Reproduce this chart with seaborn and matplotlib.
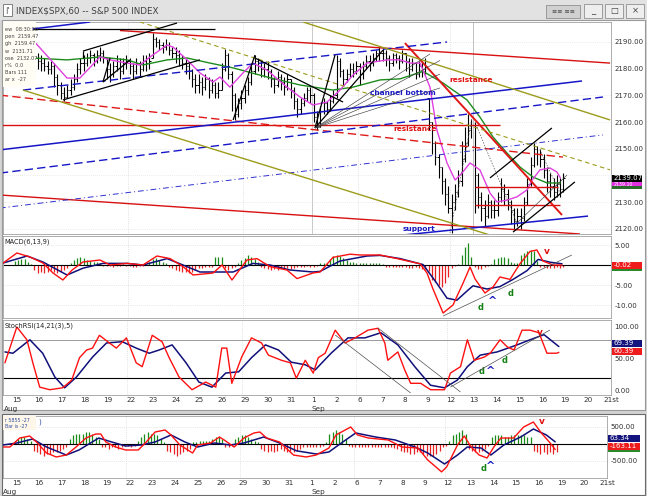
import numpy as np
import seaborn as sns
import matplotlib.pyplot as plt
from matplotlib.patches import Rectangle

sns.set_style("white")
plt.rcParams['font.family'] = ['DejaVu Sans']

W, H = 647, 496

# ---------------- data ----------------
day_labels = ['15', '16', '17', '18', '19', '22', '23', '24', '25', '26', '29', '30', '31',
              '1', '2', '6', '7', '8', '9', '12', '13', '14', '15', '16', '19', '20', '21st']

# hourly bars, 7 per day, Aug 15 .. Sep 16
closes = [
    2188, 2190, 2191, 2189, 2188, 2186, 2184,
    2183, 2182, 2181, 2180, 2181, 2177, 2174,
    2171, 2169.5, 2172, 2173, 2176, 2180, 2182,
    2182, 2184, 2185, 2183, 2185, 2186, 2184,
    2180, 2178, 2181, 2183, 2179, 2182, 2183,
    2181, 2179, 2182, 2180, 2183, 2182, 2183,
    2191, 2190, 2189, 2188, 2189, 2187, 2186,
    2185, 2184, 2182, 2181, 2179, 2176, 2174,
    2175, 2173, 2176, 2172, 2174, 2171, 2172,
    2180, 2185, 2178, 2170, 2163, 2167, 2169,
    2172, 2175, 2179, 2183, 2181, 2180, 2180,
    2179, 2176, 2174, 2177, 2175, 2173, 2176,
    2172, 2168, 2165, 2167, 2169, 2172, 2170,
    2162, 2158, 2164, 2167, 2165, 2168, 2170,
    2183, 2179, 2176, 2178, 2180, 2179, 2181,
    2178, 2181, 2183, 2182, 2184, 2186, 2186,
    2186, 2184, 2182, 2185, 2184, 2183, 2186,
    2183, 2180, 2182, 2178, 2181, 2180, 2181,
    2160, 2152, 2147, 2143, 2138, 2133, 2128,
    2130, 2134, 2138, 2146, 2152, 2157, 2159,
    2140, 2132, 2128, 2125, 2130, 2127, 2127,
    2132, 2135, 2133, 2130, 2127, 2123, 2125,
    2124, 2130, 2137, 2144, 2150, 2148, 2146,
    2142, 2138, 2136, 2134, 2137, 2135, 2139.07,
]
highs = [
    2190, 2193.8, 2193, 2191, 2190, 2189, 2187,
    2186, 2185, 2184, 2183, 2183, 2182, 2178,
    2175, 2173, 2174, 2176, 2178, 2182, 2184,
    2185, 2186, 2187, 2186, 2187, 2188, 2187,
    2184, 2182, 2183, 2185, 2184, 2184, 2185,
    2184, 2182, 2184, 2183, 2185, 2185, 2186,
    2193.5, 2192, 2191, 2190, 2191, 2190, 2188,
    2188, 2187, 2185, 2184, 2182, 2180, 2178,
    2178, 2177, 2178, 2177, 2176, 2175, 2175,
    2182, 2187.5, 2186, 2179, 2171, 2169, 2172,
    2174, 2177, 2181, 2185, 2184, 2183, 2182,
    2183, 2180, 2177, 2179, 2178, 2177, 2178,
    2176, 2173, 2169, 2169, 2171, 2173, 2173,
    2171, 2164, 2166, 2169, 2168, 2170, 2172,
    2185, 2184, 2180, 2180, 2182, 2182, 2183,
    2182, 2183, 2185, 2185, 2186, 2187, 2188,
    2187.7, 2187, 2185, 2186, 2186, 2185, 2187,
    2186, 2184, 2184, 2182, 2183, 2183, 2184,
    2169, 2160, 2153, 2148, 2143, 2139, 2136,
    2133, 2137, 2142, 2153, 2158, 2163, 2161,
    2160, 2141, 2134, 2131, 2133, 2131, 2131,
    2134, 2139, 2137, 2135, 2131, 2128, 2128,
    2128, 2132, 2139, 2147, 2152, 2151, 2150,
    2148, 2143, 2141, 2139, 2140, 2139, 2141,
]
lows = [
    2185, 2187, 2189, 2187, 2186, 2184, 2181,
    2180, 2179, 2179, 2178, 2178, 2173, 2170,
    2168.5, 2168, 2169, 2170, 2172, 2175, 2178,
    2179, 2181, 2182, 2181, 2182, 2183, 2182,
    2176, 2175, 2177, 2179, 2176, 2178, 2180,
    2178, 2176, 2178, 2177, 2179, 2179, 2180,
    2184, 2188, 2187, 2186, 2187, 2185, 2184,
    2182, 2181, 2180, 2178, 2176, 2173, 2171,
    2171, 2170, 2172, 2169, 2171, 2169, 2169,
    2172, 2179, 2176, 2164, 2160.8, 2162, 2165,
    2167, 2170, 2174, 2178, 2179, 2177, 2177,
    2176, 2173, 2171, 2173, 2172, 2170, 2172,
    2169, 2165, 2162, 2163, 2166, 2168, 2167,
    2160, 2157, 2158, 2163, 2163, 2164, 2167,
    2169, 2177, 2174, 2175, 2177, 2177, 2178,
    2174, 2176, 2180, 2179, 2181, 2183, 2183,
    2183, 2181, 2179, 2181, 2182, 2180, 2182,
    2179, 2177, 2179, 2176, 2177, 2177, 2178,
    2157, 2148, 2144, 2139, 2133, 2129, 2126,
    2118.5, 2127, 2132, 2136, 2145, 2151, 2154,
    2126, 2128, 2123, 2121, 2124, 2124, 2124,
    2125, 2130, 2129, 2127, 2122, 2119.5, 2121,
    2120, 2123, 2129, 2136, 2143, 2144, 2143,
    2139, 2134, 2132, 2131, 2132, 2132, 2134,
]
first_open = 2186.0

# moving averages drawn on the price bars (day position, price)
ma_fast_x = [0.87, 2.35, 2.91, 3.78, 4.22, 4.96, 5.52, 5.96, 6.70, 6.96, 7.57, 8.13, 8.70, 9.00,
             9.43, 10.00, 10.43, 11.04, 11.91, 12.48, 13.04, 13.65, 14.22, 14.78, 15.39, 16.26,
             16.83, 17.26, 17.70, 18.13, 18.43, 18.87, 19.22, 19.52, 19.87, 20.30, 20.74, 21.04,
             21.48, 21.91, 22.35, 22.57, 22.91, 23.35, 23.65, 23.80]
ma_fast_y = [2190.7, 2176.5, 2176.5, 2184.4, 2183.3, 2182.1, 2181.4, 2184.4, 2188.9, 2188.1,
             2183.3, 2178.4, 2175.0, 2176.9, 2173.1, 2178.4, 2182.1, 2179.5, 2173.1, 2169.4,
             2166.4, 2167.5, 2172.0, 2177.6, 2182.1, 2183.3, 2183.3, 2182.1, 2182.1, 2173.1,
             2157.0, 2144.7, 2138.3, 2140.9, 2144.7, 2142.1, 2133.4, 2130.1, 2130.8, 2132.0,
             2134.6, 2138.3, 2142.1, 2142.8, 2141.3, 2139.1]
ma_slow_x = [0.87, 2.35, 3.78, 4.96, 5.65, 6.70, 7.57, 8.57, 9.57, 11.04, 12.48, 13.91, 14.78,
             15.96, 16.83, 17.83, 18.70, 19.74, 20.30, 20.87, 21.48, 22.04, 22.61, 23.22, 23.80]
ma_slow_y = [2184.0, 2183.3, 2184.4, 2183.3, 2181.4, 2183.3, 2184.0, 2182.1, 2180.3, 2176.9,
             2173.9, 2172.0, 2173.1, 2175.8, 2176.2, 2179.0, 2174.6, 2168.3, 2161.9, 2154.4,
             2148.4, 2143.2, 2139.4, 2137.2, 2137.2]

# MACD(6,13,9)
macd_x = [-0.43, 0.17, 0.74, 1.30, 1.74, 2.17, 2.57, 3.04, 3.78, 4.22, 4.96, 5.65, 6.26, 6.83,
          7.39, 7.83, 8.70, 9.09, 9.52, 10.17, 10.61, 11.17, 11.91, 12.35, 13.04, 13.35, 13.91,
          14.65, 15.09, 15.96, 16.70, 17.70, 18.00, 18.26, 18.70, 19.13, 19.57, 19.87, 20.09,
          20.52, 20.87, 21.17, 21.61, 22.04, 22.48, 22.78, 23.04, 23.48, 23.87]
macd_y = [0.5, 3.0, 2.0, 0.5, -2.0, -3.75, -1.25, 0.75, 1.25, 0.0, 0.4, 0.0, 2.25, 1.6, -0.4,
          -2.5, -2.0, 0.0, -3.75, 1.25, 1.6, -0.4, -1.25, -3.4, -2.0, -1.75, 1.9, 2.7, 2.5, 2.5,
          1.6, 0.3, -2.0, -6.0, -12.0, -10.0, -4.5, -0.5, -3.5, -7.0, -5.5, -3.0, -3.6, 0.3,
          3.4, 3.75, 1.0, 0.0, -0.02]
signal_x = [-0.43, 0.61, 1.30, 2.35, 3.04, 3.91, 4.96, 5.65, 6.70, 7.39, 8.13, 8.87, 9.57,
            10.43, 11.17, 12.04, 13.04, 13.35, 14.22, 15.39, 15.96, 16.83, 17.83, 18.43, 18.87,
            19.30, 19.74, 20.00, 20.61, 21.17, 21.74, 22.35, 22.83, 23.35, 23.87]
signal_y = [0.5, 2.25, 0.75, -2.5, -0.8, 0.4, 0.4, 0.0, 1.6, 0.0, -1.75, -1.75, -1.75, 0.4,
            0.0, -1.25, -1.75, -1.6, 1.0, 2.25, 2.4, 1.6, 0.1, -4.6, -8.3, -8.8, -6.5, -5.2,
            -6.0, -5.4, -3.6, -1.4, 1.4, 0.7, 0.3]
macd_hist = [
    1.0, 1.3, 1.6, 1.5, 0.8, 0.3, -1.2,
    -2.0, -1.7, -2.0, -1.7, -1.3, -1.7, -2.0,
    -1.7, -1.3, -0.8, 0.5, 1.2, 1.8, 2.0,
    1.7, 1.3, 1.0, 0.8, 0.7, 0.4, -0.2,
    -0.3, -0.2, -0.4, -0.3, -0.2, 0.2, -0.3,
    -0.3, -0.5, -0.4, -0.3, -0.2, 0.3, 0.8,
    1.5, 1.7, 1.3, 0.8, 0.4, -0.4, -0.8,
    -1.2, -1.5, -1.7, -1.8, -2.0, -1.7, -1.3,
    -0.8, -0.7, -0.4, -0.4, -0.4, 2.0, 2.0,
    2.0, -0.8, -1.2, -0.8, -0.6, 0.5, 1.2,
    1.7, 2.4, 2.0, 1.6, 0.8, -0.4, -0.8,
    -1.0, -1.2, -1.0, -1.2, -0.8, -0.7, -0.8,
    -1.0, -0.7, -0.5, -0.4, -0.5, -0.3, -0.4,
    -0.4, -0.3, 0.4, 0.5, 0.6, 1.5, 2.3,
    2.5, 2.3, 1.8, 1.2, 0.8, 0.8, 0.6,
    0.6, 0.5, 0.6, 0.5, 0.4, 0.5, 0.4,
    0.3, -0.4, -0.6, -0.5, -0.4, -0.6, -0.5,
    -0.6, -0.7, -0.8, -0.6, -0.8, -0.9, -1.0,
    -1.5, -3.7, -4.2, -5.0, -5.4, -4.6, -2.9,
    -0.8, -0.3, 0.3, 2.5, 4.6, 5.4, 2.1,
    -0.5, -0.9, -1.0, -0.6, -0.3, 0.3, 1.6,
    1.7, 2.0, 2.1, 1.8, 0.8, 0.4, 0.5,
    2.4, 3.0, 3.5, 3.8, 3.4, 1.0, -0.4,
    -0.6, -0.8, -0.7, -0.8, -0.6, -0.7, -0.5,
]

# StochRSI(14,21(3),5)
srsi_x = [-0.35, 0.17, 0.61, 0.87, 1.17, 1.61, 2.17, 2.57, 2.91, 3.22, 3.48, 3.78, 4.22, 4.52,
          4.96, 5.39, 5.65, 6.09, 6.52, 6.83, 7.26, 7.83, 8.43, 8.87, 9.13, 9.35, 9.57, 10.00,
          10.43, 10.87, 11.17, 11.74, 12.13, 12.39, 12.78, 13.13, 13.35, 13.65, 14.09, 14.52,
          14.96, 15.52, 15.96, 16.26, 16.39, 16.83, 17.13, 17.39, 17.83, 18.26, 18.87, 19.13,
          19.57, 19.87, 20.17, 20.61, 20.87, 21.30, 21.61, 21.91, 22.26, 22.61, 23.00, 23.35,
          23.78, 23.87]
srsi_y = [44, 100, 80, 44, 6, 2, 5, 17, 52, 64, 67, 87, 75, 67, 83, 44, 38, 87, 77, 52, 22, 2,
          14, 6, 67, 67, 12, 53, 83, 75, 56, 48, 44, 20, 48, 28, 52, 59, 95, 75, 83, 95, 98, 75,
          48, 61, 33, 12, 12, 2, 2, 28, 38, 80, 48, 53, 59, 80, 69, 64, 95, 95, 91, 59, 59, 60.4]
ssig_x = [-0.35, 0.0, 0.74, 1.30, 1.83, 2.26, 2.78, 3.48, 4.09, 4.78, 5.39, 5.96, 6.39, 6.96,
          7.57, 8.13, 8.70, 9.30, 9.87, 10.43, 11.04, 11.61, 12.17, 12.78, 13.22, 13.35, 13.91,
          14.65, 15.39, 16.09, 16.83, 17.57, 18.26, 18.87, 19.43, 19.87, 20.43, 21.17, 22.04,
          22.61, 23.22, 23.78, 23.87]
ssig_y = [61, 59, 80, 59, 22, 5, 22, 53, 75, 77, 67, 59, 64, 72, 44, 14, 6, 28, 30, 52, 72, 64,
          45, 41, 33, 38, 59, 83, 83, 91, 72, 38, 9, 5, 17, 38, 56, 61, 72, 80, 88, 72, 69.4]

# lower oscillator window
osc_x = [-0.43, -0.13, 0.30, 0.74, 1.04, 1.48, 1.91, 2.35, 2.78, 3.22, 3.65, 3.87, 4.09, 4.52,
         4.96, 5.52, 5.87, 6.26, 6.70, 6.96, 7.35, 7.70, 7.91, 8.13, 8.70, 9.09, 9.30, 9.74,
         10.17, 10.61, 10.87, 11.17, 11.74, 12.35, 12.91, 13.35, 13.91, 14.22, 14.87, 15.17,
         15.65, 16.52, 17.13, 17.83, 18.26, 18.87, 19.09, 19.57, 19.87, 20.17, 20.52, 20.87,
         21.17, 21.48, 22.04, 22.48, 22.91, 23.26, 23.65, 23.87]
osc_y = [-88, -88, 176, 235, 59, -265, -382, -324, -88, 176, 294, 294, 59, -88, -176, -176, 59,
         353, 412, 265, -29, -176, -265, -29, 29, 206, 118, -88, 176, 324, 353, 176, 59, -324,
         -382, -324, -118, 265, 500, 265, 176, 118, -88, -118, -470, -820, -676, -29, 235, -88,
         -324, -412, -88, 176, 176, 500, 647, 324, 29, -163]
osig_x = [-0.43, 0.17, 0.87, 1.48, 2.35, 2.91, 3.78, 4.35, 4.96, 5.65, 6.26, 6.96, 7.57, 8.13,
          8.87, 9.57, 10.17, 11.04, 11.74, 12.48, 13.35, 13.91, 14.52, 15.09, 15.96, 16.83,
          17.70, 18.26, 19.00, 19.57, 20.00, 20.61, 21.04, 21.61, 22.35, 22.91, 23.48, 23.87]
osig_y = [-29, 29, 147, -88, -324, -176, 176, 59, -59, -29, 59, 265, 59, -88, 29, -29, 29, 206,
          29, -200, -294, -235, 59, 324, 206, 118, -88, -265, -588, -324, -88, -118, -324, -29,
          206, 441, 265, 63]
osc_hist = [
    100, 150, 200, 200, 150, 100, -200,
    -250, -300, -350, -300, -300, -250, -250,
    -200, -150, -100, 150, 250, 300, 300,
    300, 350, 350, 300, 200, 150, -100,
    -100, -150, -100, -100, -150, -100, -50,
    -50, -100, -50, 100, 200, 300, 350,
    300, 300, 250, 150, 50, -200, -250,
    -300, -350, -300, -250, -200, -150, 50,
    50, 80, 100, 100, 80, 150, 200,
    200, 150, -100, -100, -50, 150, 200,
    250, 250, 200, 150, 100, 50, -150,
    -200, -250, -200, -250, -200, -150, -200,
    -250, -200, -250, -200, -150, -100, -100,
    -100, -100, -80, -80, -50, 50, 300,
    350, 400, 350, 300, 150, -50, -100,
    -100, -100, -80, -100, -100, -80, -100,
    -80, -100, -100, -80, -100, -120, -150,
    -200, -250, -250, -300, -300, -250, -250,
    -300, -350, -350, -350, -300, -200, -100,
    -50, 100, 250, 300, 350, 400, 300,
    -150, -200, -250, -250, -200, -150, -50,
    200, 250, 250, 250, 200, 200, 250,
    250, 250, 250, 250, 200, 200, -200,
    -250, -300, -250, -300, -250, -300, -250,
]

# analyst trendlines on the price window: (day0, price0, day1, price1)
red_solid = [(4.65, 2194.3, 25.96, 2182.1), (-0.57, 2158.9, 21.17, 2158.9),
             (-0.57, 2132.7, 24.65, 2118.1), (20.09, 2135.7, 23.70, 2135.7),
             (20.09, 2129.0, 23.78, 2129.0)]
red_thick = [(17.04, 2189.6, 23.87, 2125.2)]
red_dashed = [(-0.57, 2170.1, 23.91, 2146.9)]
blue_solid = [(0.87, 2194.9, 3.35, 2197.5), (-0.57, 2149.6, 24.74, 2175.4),
              (16.96, 2117.7, 25.0, 2124.8)]
blue_dashed = [(0.43, 2172.0, 18.87, 2190.0), (-0.57, 2140.9, 25.65, 2169.4)]
blue_dashdot = [(-0.57, 2127.8, 25.65, 2155.2)]
olive_solid = [(12.61, 2197.5, 25.96, 2160.8), (0.43, 2172.0, 20.74, 2117.7)]
olive_dashed = [(5.52, 2197.5, 25.96, 2142.1)]
black_solid = [(0.87, 2194.7, 8.78, 2194.7), (3.04, 2186.6, 7.13, 2197.1),
               (2.17, 2168.3, 8.13, 2183.3), (3.04, 2186.6, 3.04, 2184.0),
               (3.91, 2175.0, 5.09, 2183.3), (3.91, 2175.0, 4.22, 2184.0),
               (9.57, 2160.8, 10.52, 2185.1), (10.52, 2184.0, 14.35, 2167.5),
               (13.13, 2157.8, 14.0, 2185.1), (13.13, 2157.8, 16.09, 2187.0),
               (20.74, 2139.1, 23.43, 2157.8), (21.74, 2118.8, 24.43, 2137.6)]
black_thin = [(13.13, 2157.8, 18.13, 2185.5), (13.13, 2157.8, 18.57, 2183.1),
              (13.13, 2157.8, 18.57, 2178.0), (13.13, 2157.8, 18.57, 2172.8),
              (21.91, 2122.2, 24.09, 2140.2)]
black_dotted = [(19.0, 2118.5, 19.96, 2161.5), (20.17, 2158.2, 21.91, 2122.2),
                (22.91, 2149.6, 23.78, 2133.5)]
macd_trend = [(18.7, -12.75, 24.3, 2.5)]
srsi_trend = [(14.09, 87.5, 17.39, -3.1), (15.96, 98.4, 19.57, -1.6), (19.13, 6.25, 23.48, 95.3)]

info_rows = ['ew  08:30:00', 'pen  2159.47', 'gh  2159.47', 'w  2131.71', 'ose  2132.07',
             'r%  0.0', 'Bars 111', 'ar x  -27']

# price levels with a visible axis label (2140 sits under the last-price tag)
price_ticks = [2120, 2130, 2150, 2160, 2170, 2180, 2190]

# ---------------- layout helpers ----------------
fig = plt.figure(figsize=(W / 100, H / 100), dpi=100)
fig.patch.set_facecolor('#d4d4d4')


def fbox(x0, y0, x1, y1):
    return [x0 / W, 1 - y1 / H, (x1 - x0) / W, (y1 - y0) / H]


def frect(x0, y0, x1, y1, z=-1, **kw):
    fig.patches.append(Rectangle((x0 / W, 1 - y1 / H), (x1 - x0) / W, (y1 - y0) / H,
                                 transform=fig.transFigure, zorder=z, **kw))


def ftext(px, py, s, **kw):
    fig.text(px / W, 1 - py / H, s, **kw)


def tag(px, py, s, fc, tc='white', w=30, h=7, size=5):
    frect(px, py - h / 2, px + w, py + h / 2, z=2, fc=fc, ec='none')
    ftext(px + 2, py, s, color=tc, fontsize=size, va='center', ha='left', zorder=3)


# window chrome
frect(0, 0, W, 20, fc='#e2e2e2', ec='none')
frect(3, 4, 12, 16, fc='white', ec='#707070', lw=0.6)
ftext(5, 10, "|'", fontsize=5, va='center', color='#303030')
ftext(16, 11, r'INDEX\$SPX,60 -- S&P 500 INDEX', fontsize=6.3, va='center', color='#404040')
frect(546, 5, 580, 18, fc='#d0d0d0', ec='#909090', lw=0.6)
ftext(563, 11.5, '≡≡ ≡≡', fontsize=4.5, ha='center', va='center', color='#404040')
for bx0, glyph in [(584, '_'), (605, '□'), (626, '×')]:
    frect(bx0, 4, bx0 + 18, 18, fc='#eeeeee', ec='#909090', lw=0.6)
    ftext(bx0 + 9, 11, glyph, fontsize=6, ha='center', va='center', color='#404040')
frect(2, 20, 645, 410, fc='white', ec='#9a9a9a', lw=0.8)
frect(2, 414, 645, 495, fc='white', ec='#6a6a6a', lw=0.8)

ax_p = fig.add_axes(fbox(3, 22, 611, 234))
ax_m = fig.add_axes(fbox(3, 236, 611, 318))
ax_s = fig.add_axes(fbox(3, 320, 611, 395))
ax_b = fig.add_axes(fbox(3, 416, 607, 478))

for ax in (ax_p, ax_m, ax_s, ax_b):
    ax.set_facecolor('white')
    for sp in ax.spines.values():
        sp.set_color('#a0a0a0')
        sp.set_linewidth(0.6)
    ax.yaxis.tick_right()
    ax.tick_params(axis='y', length=0, pad=2.5, labelsize=5, labelcolor='#303030')
    ax.tick_params(axis='x', length=0)
    ax.set_xlabel('')
    ax.set_ylabel('')

for ax in (ax_p, ax_m, ax_s):
    ax.set_xlim(-0.435, 26.0)
ax_b.set_xlim(-0.435, 25.83)
ax_p.set_ylim(2118.09, 2197.49)
ax_m.set_ylim(-13.25, 7.25)
ax_s.set_ylim(-6.25, 110.9)
ax_b.set_ylim(-1000, 823.5)

ticks_at = [i + 0.15 for i in range(len(day_labels))]
for ax in (ax_p, ax_m):
    ax.set_xticks([])
for ax in (ax_s, ax_b):
    ax.set_xticks(ticks_at)
    ax.set_xticklabels(day_labels)
    ax.tick_params(axis='x', labelsize=5.2, pad=1.5, labelcolor='#303030')

# faint grid / week separators
for ax in (ax_p, ax_m, ax_s, ax_b):
    for d in (5, 10, 15, 19):
        ax.axvline(d, color='#c8c8c8', lw=0.5, ls=(0, (1, 2)), zorder=0)
ax_p.axvline(13, color='#c0c0c0', lw=0.6, zorder=0)
ax_p.axvline(20, color='#b8b8b8', lw=0.6, zorder=0)
for p in range(2120, 2200, 10):
    ax_p.axhline(p, color='#d8d8d8', lw=0.5, ls=(0, (1, 2)), zorder=0)
for v in (5, -5, -10):
    ax_m.axhline(v, color='#d0d0d0', lw=0.5, ls=(0, (1, 2)), zorder=0)
for v in (500, -500):
    ax_b.axhline(v, color='#d0d0d0', lw=0.5, ls=(0, (1, 2)), zorder=0)

# ---------------- price window ----------------
idx = np.arange(len(closes))
bar_x = idx // 7 + (idx % 7 + 0.5) / 7
c = np.array(closes, dtype=float)
hi = np.array(highs, dtype=float)
lo = np.array(lows, dtype=float)
op = np.clip(np.concatenate([[first_open], c[:-1]]), lo, hi)
ax_p.vlines(bar_x, lo, hi, color='black', lw=0.8, zorder=2)
ax_p.hlines(op, bar_x - 0.05, bar_x, color='black', lw=0.7, zorder=2)
ax_p.hlines(c, bar_x, bar_x + 0.05, color='black', lw=0.7, zorder=2)

sns.lineplot(x=ma_slow_x, y=ma_slow_y, ax=ax_p, color='#1c8c1c', lw=1.0, estimator=None, zorder=3)
sns.lineplot(x=ma_fast_x, y=ma_fast_y, ax=ax_p, color='#e040e0', lw=1.0, estimator=None, zorder=3)

# info box over the first bars
ax_p.add_patch(Rectangle((0, 0.695), 0.054, 0.305, transform=ax_p.transAxes,
                         fc='#fffdf4', ec='none', zorder=3.5))
for k, row in enumerate(info_rows):
    ax_p.text(0.003, 0.965 - k * 0.034, row, transform=ax_p.transAxes, fontsize=3.6,
              color='#404040', va='center', zorder=5)


def draw_segments(ax, segs, **kw):
    for d0, v0, d1, v1 in segs:
        ax.plot([d0, d1], [v0, v1], zorder=4, solid_capstyle='butt', **kw)


draw_segments(ax_p, red_solid, color='#d81010', lw=1.0)
draw_segments(ax_p, red_thick, color='#e01818', lw=1.4)
draw_segments(ax_p, red_dashed, color='#e01818', lw=1.0, ls=(0, (6, 3)))
draw_segments(ax_p, blue_solid, color='#1616c8', lw=1.1)
draw_segments(ax_p, blue_dashed, color='#1616c8', lw=1.0, ls=(0, (6, 3)))
draw_segments(ax_p, blue_dashdot, color='#3030d0', lw=0.7, ls=(0, (6, 3, 1, 3)))
draw_segments(ax_p, olive_solid, color='#9c9c1c', lw=1.0)
draw_segments(ax_p, olive_dashed, color='#9c9c1c', lw=0.8, ls=(0, (4, 3)))
draw_segments(ax_p, black_solid, color='black', lw=0.9)
draw_segments(ax_p, black_thin, color='#404040', lw=0.45)
draw_segments(ax_p, black_dotted, color='#505050', lw=0.5, ls=(0, (2, 2)))

ax_p.text(15.52, 2170.9, 'channel bottom', color='#1a1ac0', fontsize=5.3, fontweight='bold',
          va='center', zorder=5)
ax_p.text(18.96, 2175.8, 'resistance', color='#e01010', fontsize=5.3, fontweight='bold',
          va='center', zorder=5)
ax_p.text(16.52, 2157.4, 'resistance', color='#e01010', fontsize=5.3, fontweight='bold',
          va='center', zorder=5)
ax_p.text(16.96, 2120.0, 'support', color='#1a1ac0', fontsize=5.3, fontweight='bold',
          va='center', zorder=5)

ax_p.set_yticks(price_ticks)
ax_p.set_yticklabels([f'{p:.2f}' for p in price_ticks])

# ---------------- MACD ----------------
mh = np.array(macd_hist)
ax_m.vlines(bar_x, 0, mh, colors=np.where(mh >= 0, '#1a8a1a', '#e82020'), lw=0.9, zorder=2)
ax_m.axhline(0, color='black', lw=0.8, zorder=2.5)
sns.lineplot(x=signal_x, y=signal_y, ax=ax_m, color='#10107a', lw=1.1, estimator=None, zorder=3)
sns.lineplot(x=macd_x, y=macd_y, ax=ax_m, color='#ff1010', lw=1.0, estimator=None, zorder=3)
draw_segments(ax_m, macd_trend, color='#505050', lw=0.5)
ax_m.text(0.003, 0.93, 'MACD(6,13,9)', transform=ax_m.transAxes, fontsize=4.8, color='#202020',
          va='center')
ax_m.text(20.35, -10.75, 'd', color='#138013', fontsize=6, fontweight='bold', ha='center', va='center')
ax_m.text(20.83, -9.0, '^', color='#1a1ac0', fontsize=8, fontweight='bold', ha='center', va='center')
ax_m.text(21.65, -7.0, 'd', color='#138013', fontsize=6, fontweight='bold', ha='center', va='center')
ax_m.text(23.22, 3.25, 'v', color='#e01010', fontsize=6.5, fontweight='bold', ha='center', va='center')
ax_m.set_yticks([5, -5, -10])
ax_m.set_yticklabels(['5.00', '-5.00', '-10.00'])

# ---------------- StochRSI ----------------
ax_s.axhline(80, color='#9a9a9a', lw=0.7, zorder=1)
ax_s.axhline(20, color='black', lw=0.8, zorder=1)
sns.lineplot(x=ssig_x, y=ssig_y, ax=ax_s, color='#10107a', lw=1.1, estimator=None, zorder=3)
sns.lineplot(x=srsi_x, y=srsi_y, ax=ax_s, color='#ff1010', lw=1.0, estimator=None, zorder=3)
draw_segments(ax_s, srsi_trend, color='#505050', lw=0.5)
ax_s.text(0.003, 0.92, 'StochRSI(14,21(3),5)', transform=ax_s.transAxes, fontsize=4.8,
          color='#202020', va='center')
ax_s.text(20.48, 31.0, 'd', color='#138013', fontsize=6, fontweight='bold', ha='center', va='center')
ax_s.text(20.9, 31.0, '^', color='#1a1ac0', fontsize=8, fontweight='bold', ha='center', va='center')
ax_s.text(21.52, 47.0, 'd', color='#138013', fontsize=6, fontweight='bold', ha='center', va='center')
ax_s.text(23.04, 92.0, 'v', color='#e01010', fontsize=6.5, fontweight='bold', ha='center', va='center')
ax_s.set_yticks([100, 50, 0])
ax_s.set_yticklabels(['100.00', '50.00', '0.00'])

# ---------------- lower oscillator ----------------
oh = np.array(osc_hist)
ax_b.vlines(bar_x, 0, oh, colors=np.where(oh >= 0, '#1a8a1a', '#e82020'), lw=0.9, zorder=2)
ax_b.axhline(0, color='black', lw=0.8, zorder=2.5)
sns.lineplot(x=osig_x, y=osig_y, ax=ax_b, color='#10107a', lw=1.1, estimator=None, zorder=3)
sns.lineplot(x=osc_x, y=osc_y, ax=ax_b, color='#ff1010', lw=1.0, estimator=None, zorder=3)
ax_b.add_patch(Rectangle((0, 0.77), 0.055, 0.23, transform=ax_b.transAxes,
                         fc='#fff6ea', ec='none', zorder=4))
ax_b.text(0.003, 0.93, 'r 5855 -27', transform=ax_b.transAxes, fontsize=3.4, color='#3050a0',
          va='center', zorder=5)
ax_b.text(0.003, 0.83, 'Bar is -27', transform=ax_b.transAxes, fontsize=3.4, color='#3050a0',
          va='center', zorder=5)
ax_b.text(0.058, 0.9, ')', transform=ax_b.transAxes, fontsize=5, color='#3050a0',
          va='center', zorder=5)
ax_b.text(20.74, -706, 'd', color='#138013', fontsize=6, fontweight='bold', ha='center', va='center')
ax_b.text(21.04, -640, '^', color='#1a1ac0', fontsize=8, fontweight='bold', ha='center', va='center')
ax_b.text(23.3, 676, 'v', color='#e01010', fontsize=6.5, fontweight='bold', ha='center', va='center')
ax_b.set_yticks([500, -500])
ax_b.set_yticklabels(['500.00', '-500.00'])

# month names under the date rows
ftext(4, 409, 'Aug', fontsize=5.2, va='center', color='#303030')
ftext(311, 409, 'Sep', fontsize=5.2, va='center', color='#303030')
ftext(3, 492, 'Aug', fontsize=5.2, va='center', color='#303030')
ftext(311, 492, 'Sep', fontsize=5.2, va='center', color='#303030')

# last-value tags on the right axes
tag(612, 178.5, '2139.07', 'black')
tag(612, 184, '2139.10', '#e030e0', h=4.5, size=3.4)
frect(612, 186.3, 642, 188.5, z=2, fc='#2a6a2a', ec='none')
tag(612, 265, '-0.02', '#ee1c1c')
frect(612, 268.5, 642, 270.5, z=2, fc='#2a8a2a', ec='none')
tag(612, 343, '69.39', '#14147e')
tag(612, 351, '60.39', '#ee1c1c')
tag(608, 438, '63.34', '#14147e', w=32)
tag(608, 446, '-163.11', '#ee1c1c', w=32)
frect(608, 449.5, 640, 452, z=2, fc='#2a8a2a', ec='none')

fig.savefig('out.png', dpi=100, facecolor=fig.get_facecolor())
